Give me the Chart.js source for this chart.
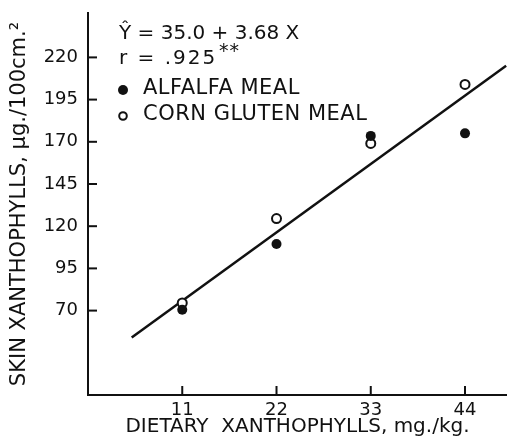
<!DOCTYPE html>
<html>
<head>
<meta charset="utf-8">
<script src="https://cdn.jsdelivr.net/npm/chart.js@4"></script>
<style>
  body { margin: 0; background: #fff; }
  canvas { display: block; }
</style>
</head>
<body>
<canvas id="chart" width="507" height="444"></canvas>
<script>
// values
const xTicks = [11, 22, 33, 44];
const yTicks = [70, 95, 120, 145, 170, 195, 220];
const alfalfa = [70.5, 109.5, 173.5, 175];
const cornGluten = [74.5, 124.5, 169, 204];
const fitX = [5.1, 48.8];
const fitY = [54, 215];

const ink = '#111';
const font = '"DejaVu Sans", sans-serif';

function pts(xs, ys) {
    return xs.map((x, i) => ({ x: x, y: ys[i] }));
}

// ticks point inward and all the text in the upper left is drawn here
const inkPlugin = {
    id: 'ink',
    afterDraw(chart) {
        const { ctx, chartArea, scales: { x, y } } = chart;
        ctx.save();
        ctx.strokeStyle = ink;
        ctx.lineWidth = 2;
        xTicks.forEach(v => {
            const px = x.getPixelForValue(v);
            ctx.beginPath();
            ctx.moveTo(px, chartArea.bottom);
            ctx.lineTo(px, chartArea.bottom - 9);
            ctx.stroke();
        });
        yTicks.forEach(v => {
            const py = y.getPixelForValue(v);
            ctx.beginPath();
            ctx.moveTo(chartArea.left, py);
            ctx.lineTo(chartArea.left + 9, py);
            ctx.stroke();
        });

        ctx.fillStyle = ink;
        ctx.textBaseline = 'middle';
        ctx.textAlign = 'left';
        ctx.font = '20px ' + font;
        ctx.fillText('\u0176 = 35.0 + 3.68 X', 119, 34);
        ctx.letterSpacing = '2px';
        ctx.fillText('r = .925', 119, 59);
        ctx.letterSpacing = '1px';
        ctx.font = '19px ' + font;
        ctx.fillText('**', 219, 52);

        // legend rows from the datasets
        ctx.font = '21px ' + font;
        ctx.letterSpacing = '0.5px';
        const rows = [89, 115];
        const sizes = [5, 3.8];
        chart.data.datasets.slice(0, 2).forEach((ds, i) => {
            ctx.beginPath();
            ctx.arc(123, rows[i] + 1, sizes[i], 0, Math.PI * 2);
            if (ds.backgroundColor === ink) {
                ctx.fill();
            } else {
                ctx.lineWidth = 2;
                ctx.stroke();
            }
            ctx.fillText(ds.label, 143, rows[i]);
        });
        ctx.restore();
    }
};

new Chart(document.getElementById('chart'), {
    type: 'scatter',
    data: {
        datasets: [
            {
                label: 'ALFALFA MEAL',
                data: pts(xTicks, alfalfa),
                backgroundColor: ink,
                borderColor: ink,
                pointRadius: 5,
                borderWidth: 0
            },
            {
                label: 'CORN GLUTEN MEAL',
                data: pts(xTicks, cornGluten),
                backgroundColor: '#fff',
                borderColor: ink,
                pointRadius: 4.5,
                borderWidth: 2
            },
            {
                label: 'fit',
                type: 'line',
                data: pts(fitX, fitY),
                borderColor: ink,
                borderWidth: 2.5,
                pointRadius: 0,
                fill: false
            }
        ]
    },
    options: {
        responsive: false,
        animation: false,
        layout: { autoPadding: false, padding: { top: 13, right: 0, left: 0, bottom: 0 } },
        plugins: {
            legend: { display: false },
            tooltip: { enabled: false }
        },
        scales: {
            x: {
                type: 'linear',
                min: 0,
                max: 48.9,
                afterFit: s => { s.height = 49; s.paddingLeft = 0; s.paddingRight = 0; },
                afterBuildTicks: s => { s.ticks = xTicks.map(v => ({ value: v })); },
                grid: { drawOnChartArea: false, drawTicks: false },
                border: { color: ink, width: 2 },
                ticks: { color: ink, padding: 5, font: { family: font, size: 18 } },
                title: {
                    display: true,
                    text: 'DIETARY  XANTHOPHYLLS, mg./kg.',
                    color: ink,
                    font: { family: font, size: 20 },
                    padding: { top: 0, bottom: 5 }
                }
            },
            y: {
                min: 20,
                max: 246.3,
                afterFit: s => { s.width = 88; s.paddingTop = 0; s.paddingBottom = 0; },
                afterBuildTicks: s => { s.ticks = yTicks.map(v => ({ value: v })); },
                grid: { drawOnChartArea: false, drawTicks: false },
                border: { color: ink, width: 2 },
                ticks: { color: ink, padding: 10, font: { family: font, size: 18 } },
                title: {
                    display: true,
                    text: 'SKIN XANTHOPHYLLS, \u03bcg./100cm.\u00b2',
                    color: ink,
                    font: { family: font, size: 21 },
                    padding: { top: 7, bottom: 0 }
                }
            }
        }
    },
    plugins: [inkPlugin]
});
</script>
</body>
</html>
